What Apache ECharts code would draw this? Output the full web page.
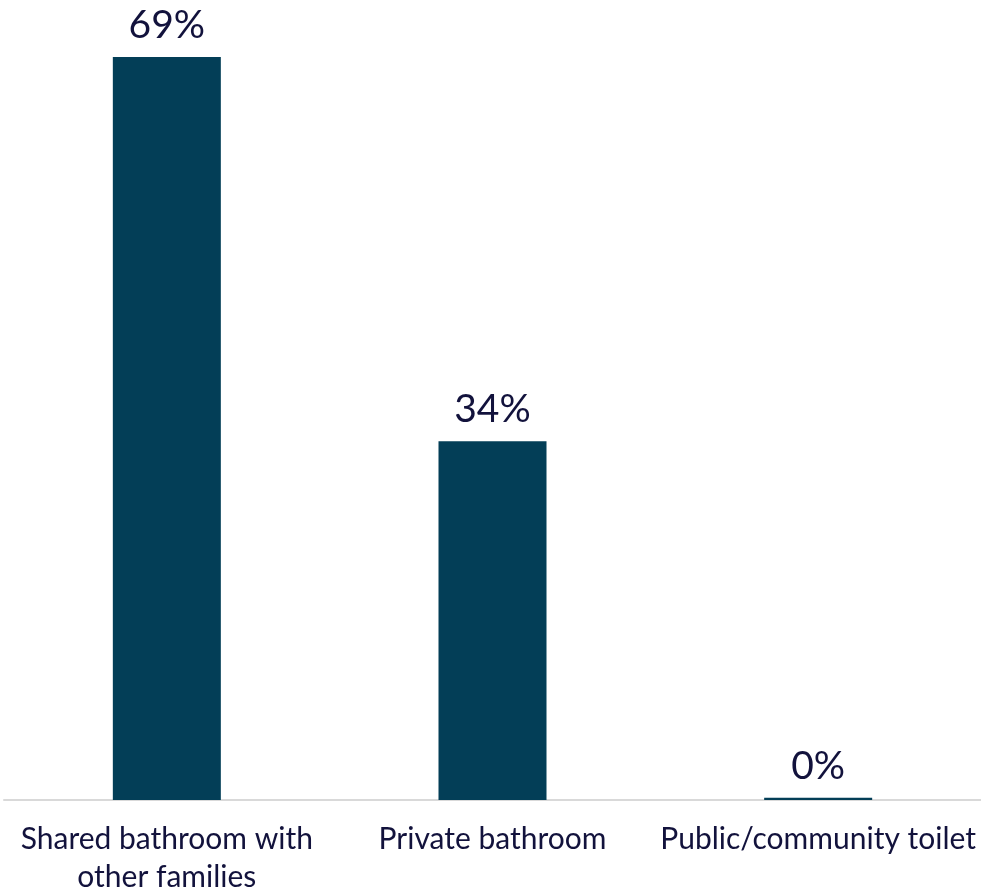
<!DOCTYPE html>
<html>
<head>
<meta charset="utf-8">
<script src="https://cdn.jsdelivr.net/npm/echarts@6/dist/echarts.min.js"></script>
<style>html,body{margin:0;padding:0;background:#fff;overflow:hidden}#c{width:981px;height:892px}</style>
</head>
<body>
<div id="c"></div>
<script>
const categories = ['Shared bathroom with\nother families', 'Private bathroom', 'Public/community toilet'];
const values = [69.4, 33.5, 0.2];

const chart = echarts.init(document.getElementById('c'), null, {renderer: 'canvas', width: 981, height: 892});
chart.setOption({
  animation: false,
  grid: {left: 4, right: 0, top: 57, bottom: 92, containLabel: false, outerBoundsMode: 'none'},
  xAxis: {
    type: 'category',
    data: categories,
    axisLine: {show: true, lineStyle: {color: '#d9d9d9', width: 2}},
    axisTick: {show: false},
    axisLabel: {
      interval: 0,
      color: '#12123c',
      fontFamily: 'Lato',
      fontSize: 30,
      lineHeight: 38,
      margin: 20
    }
  },
  yAxis: {
    type: 'value',
    min: 0,
    max: 69.4,
    show: false,
    splitLine: {show: false}
  },
  series: [{
    type: 'bar',
    data: values,
    barWidth: 108,
    itemStyle: {color: '#033e57'},
    label: {
      show: true,
      position: 'top',
      distance: 12,
      color: '#12123c',
      fontFamily: 'Lato',
      fontSize: 39,
      formatter: p => Math.round(p.value) + '%'
    }
  }]
});
</script>
</body>
</html>
